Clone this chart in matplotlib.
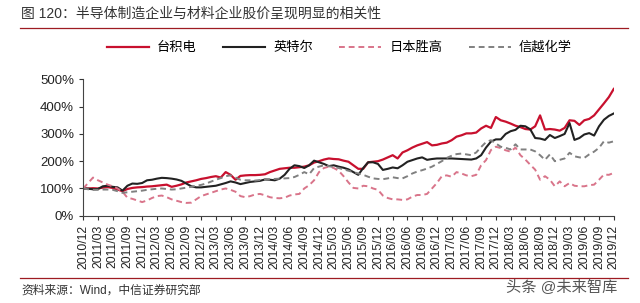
import matplotlib
matplotlib.use("Agg")
import matplotlib.pyplot as plt
from matplotlib.lines import Line2D

plt.rcParams['font.family'] = ['Liberation Sans', 'Noto Sans CJK SC']

# monthly, 2010/12 .. 2019/12, 2010/12 = 100%
tsmc = [100, 100, 101, 100, 103, 105, 102, 96, 90, 98, 102, 104, 105,
        107, 108, 110, 112, 114, 106, 110, 115, 122, 126, 130, 135,
        138, 142, 145, 140, 160, 150, 132, 146, 148, 149, 149, 150,
        152, 160, 166, 172, 174, 176, 176, 178, 180, 185, 195, 200,
        206, 210, 208, 207, 202, 198, 185, 172, 172, 196, 198, 200,
        206, 214, 222, 210, 232, 240, 250, 258, 264, 270, 258, 260,
        265, 268, 277, 290, 295, 302, 302, 305, 320, 330, 322, 362,
        350, 345, 338, 330, 325, 318, 316, 328, 368, 316, 318, 316,
        312, 322, 350, 348, 333, 350, 355, 368, 390, 412, 435, 465]
intel = [100, 99, 97, 98, 108, 110, 106, 104, 92, 110, 118, 117, 120,
         130, 132, 136, 139, 138, 136, 133, 128, 118, 108, 104, 104,
         106, 108, 110, 115, 120, 126, 122, 116, 120, 124, 126, 128,
         133, 132, 130, 136, 150, 172, 185, 182, 175, 185, 202, 196,
         190, 182, 185, 180, 176, 170, 160, 150, 175, 196, 196, 190,
         168, 172, 177, 174, 185, 198, 204, 210, 214, 205, 208, 210,
         210, 210, 210, 209, 208, 207, 206, 210, 222, 250, 272, 280,
         280, 300, 310, 315, 330, 328, 317, 285, 283, 278, 296, 285,
         292, 300, 340, 278, 285, 298, 303, 294, 328, 352, 366, 375]
sumco = [100, 120, 140, 130, 122, 114, 108, 100, 88, 66, 62, 56, 50,
         56, 65, 72, 74, 68, 60, 55, 50, 47, 48, 60, 72,
         78, 84, 90, 96, 100, 95, 88, 72, 68, 72, 78, 80,
         75, 68, 65, 64, 66, 74, 78, 80, 100, 112, 130, 160,
         175, 180, 175, 165, 145, 122, 102, 100, 110, 108, 100, 95,
         74, 65, 60, 60, 58, 60, 70, 76, 76, 80, 100, 120,
         145, 148, 143, 160, 155, 148, 145, 150, 185, 204, 241, 253,
         248, 240, 235, 250, 222, 206, 187, 169, 132, 145, 132, 108,
         126, 108, 120, 110, 108, 108, 112, 114, 132, 151, 150, 157]
shinetsu = [100, 97, 95, 95, 96, 96, 95, 90, 84, 86, 88, 90, 92,
            95, 97, 99, 100, 98, 96, 97, 100, 103, 106, 110, 113,
            118, 125, 132, 138, 145, 148, 140, 132, 130, 130, 129, 131,
            133, 134, 135, 136, 137, 138, 142, 150, 160, 152, 175, 180,
            185, 182, 178, 175, 170, 165, 160, 155, 150, 143, 137, 135,
            134, 137, 141, 138, 137, 145, 155, 162, 167, 173, 180, 190,
            200, 212, 220, 226, 228, 225, 222, 232, 252, 270, 277, 265,
            253, 249, 243, 262, 243, 243, 243, 236, 222, 205, 225, 200,
            205, 210, 231, 218, 214, 212, 225, 235, 249, 273, 268, 273]

tick_labels = []
for y in range(2010, 2020):
    for m in ["03", "06", "09", "12"]:
        if y == 2010 and m != "12":
            continue
        tick_labels.append("%d/%s" % (y, m))

x = list(range(len(tsmc)))

fig = plt.figure(figsize=(6.4, 3.03), dpi=100)
ax = fig.add_axes([0.13, 0.288, 0.829, 0.45])

ax.plot(x, tsmc, color="#C8102E", lw=1.6, label="台积电")
ax.plot(x, intel, color="#222222", lw=1.5, label="英特尔")
ax.plot(x, sumco, color="#D9748A", lw=1.4, ls=(0, (3, 2)), label="日本胜高")
ax.plot(x, shinetsu, color="#808080", lw=1.4, ls=(0, (3, 2)), label="信越化学")

ax.set_xlim(0, len(tsmc) - 1)
ax.set_ylim(0, 500)
ax.set_yticks(range(0, 501, 100))
ax.set_yticklabels(["%d%%" % v for v in range(0, 501, 100)], fontsize=9.5)
ax.set_xticks(range(0, len(tsmc), 3))
ax.set_xticklabels(tick_labels, rotation=90, fontsize=8.8)
ax.tick_params(axis="both", length=3, width=0.8, colors="#333333", labelcolor="#222222")
for s in ["top", "right"]:
    ax.spines[s].set_visible(False)
for s in ["left", "bottom"]:
    ax.spines[s].set_color("#444444")
    ax.spines[s].set_linewidth(0.8)

fig.legend(loc="center", bbox_to_anchor=(0.53, 0.842), ncol=4, frameon=False,
           fontsize=9.5, handlelength=3.2, columnspacing=2.0, handletextpad=0.6)

fig.text(0.033, 0.955, "图 120：半导体制造企业与材料企业股价呈现明显的相关性",
         fontsize=10, color="#333333", va="center")
fig.add_artist(Line2D([0.031, 0.982], [0.908, 0.908], color="#9E1B22", lw=0.9))
fig.add_artist(Line2D([0.031, 0.982], [0.083, 0.083], color="#9E1B22", lw=0.9))
fig.text(0.033, 0.042, "资料来源：Wind，中信证券研究部", fontsize=8.5, color="#333333", va="center")
fig.text(0.965, 0.05, "头条 @未来智库", fontsize=11, color="#555555", va="center", ha="right")

fig.savefig("out.png", dpi=100)
